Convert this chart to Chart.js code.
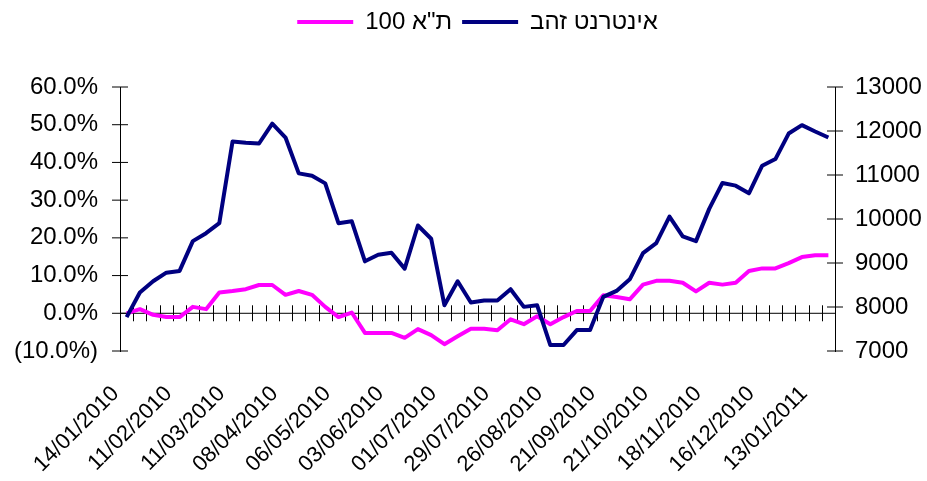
<!DOCTYPE html>
<html>
<head>
<meta charset="utf-8">
<script src="https://cdn.jsdelivr.net/npm/chart.js@4.4.0/dist/chart.umd.min.js"></script>
<style>
  body { margin: 0; background: #fff; }
  #wrap { width: 927px; height: 481px; }
</style>
</head>
<body>
<div id="wrap"><canvas id="chart"></canvas></div>
<script>
// weekly closing dates, Jan 2010 - Jan 2011
const dates = [
  '14/01/2010', '21/01/2010', '28/01/2010', '04/02/2010', '11/02/2010', '18/02/2010',
  '25/02/2010', '04/03/2010', '11/03/2010', '18/03/2010', '25/03/2010', '01/04/2010',
  '08/04/2010', '15/04/2010', '22/04/2010', '29/04/2010', '06/05/2010', '13/05/2010',
  '20/05/2010', '27/05/2010', '03/06/2010', '10/06/2010', '17/06/2010', '24/06/2010',
  '01/07/2010', '08/07/2010', '15/07/2010', '22/07/2010', '29/07/2010', '05/08/2010',
  '12/08/2010', '19/08/2010', '26/08/2010', '02/09/2010', '09/09/2010', '16/09/2010',
  '21/09/2010', '30/09/2010', '07/10/2010', '14/10/2010', '21/10/2010', '28/10/2010',
  '04/11/2010', '11/11/2010', '18/11/2010', '25/11/2010', '02/12/2010', '09/12/2010',
  '16/12/2010', '23/12/2010', '30/12/2010', '06/01/2011', '13/01/2011', '20/01/2011'
];

// Internet Gold share price (right axis)
const zahav = [
  7770, 8330, 8585, 8780, 8820, 9497, 9678, 9905, 11761, 11732, 11716, 12169,
  11852, 11037, 10985, 10810, 9905, 9950, 9038, 9189, 9234, 8872, 9853, 9552,
  8041, 8585, 8102, 8148, 8148, 8404, 8003, 8041, 7136, 7136, 7475, 7475,
  8230, 8365, 8630, 9226, 9452, 10056, 9604, 9497, 10230, 10819, 10758, 10584,
  11211, 11362, 11942, 12133, 11988, 11852
];

// TA-100 change in % (left axis)
const ta100 = [
  0.0, 1.1, -0.4, -1.0, -1.0, 1.7, 1.1, 5.5, 5.9, 6.4, 7.5, 7.5,
  4.9, 5.9, 4.9, 1.7, -1.0, 0.2, -5.2, -5.2, -5.2, -6.5, -4.2, -5.8,
  -8.2, -6.1, -4.1, -4.1, -4.5, -1.6, -2.9, -0.8, -2.9, -1.0, 0.6, 0.6,
  4.8, 4.3, 3.7, 7.6, 8.6, 8.6, 8.1, 5.8, 8.1, 7.6, 8.1, 11.2,
  11.9, 11.9, 13.3, 14.9, 15.4, 15.4
];

const pctRange = [-10, 60];
const priceRange = [7000, 13000];
const seriesNames = ['אינטרנט זהב', 'ת"א 100'];

Chart.defaults.font.family = '"Liberation Sans", Arial, sans-serif';
Chart.defaults.font.size = 24;
Chart.defaults.color = '#000';

// zero line with category ticks, and y ticks crossing both axis lines
const crossAxes = {
  id: 'crossAxes',
  beforeDatasetsDraw(chart) {
    const { ctx, chartArea, scales } = chart;
    const x = scales.x;
    const y0 = scales.yPct.getPixelForValue(0);
    const step = x.getPixelForValue(1) - x.getPixelForValue(0);
    ctx.save();
    ctx.lineWidth = 1;
    ctx.strokeStyle = '#000';
    ctx.beginPath();
    ctx.moveTo(chartArea.left, y0);
    ctx.lineTo(chartArea.right, y0);
    for (let i = 1; i < dates.length; i++) {
      const bx = Math.round(x.getPixelForValue(i) - step / 2) + 0.5;
      ctx.moveTo(bx, y0 - 8);
      ctx.lineTo(bx, y0 + 8);
    }
    [scales.yPct, scales.yPrice].forEach(s => {
      const ax = s.position === 'left' ? s.right : s.left;
      s.ticks.forEach(t => {
        const ty = s.getPixelForValue(t.value);
        ctx.moveTo(ax - 8, ty);
        ctx.lineTo(ax + 8, ty);
      });
    });
    ctx.stroke();
    ctx.restore();
  }
};

// extra room between the legend row and the plot, legend nudged right
const legendGap = {
  id: 'legendGap',
  beforeLayout(chart) {
    const lg = chart.legend;
    if (lg && !lg._gapAdded) {
      const fit = lg.fit;
      const draw = lg.draw;
      lg.fit = function () {
        fit.call(this);
        this.height += 43;
      };
      lg.draw = function () {
        this.ctx.save();
        this.ctx.translate(14, 0);
        draw.call(this);
        this.ctx.restore();
      };
      lg._gapAdded = true;
    }
  }
};

new Chart(document.getElementById('chart'), {
  type: 'line',
  data: {
    labels: dates,
    datasets: [
      {
        label: seriesNames[0],
        data: zahav,
        yAxisID: 'yPrice',
        borderColor: '#000080',
        backgroundColor: '#000080',
        borderWidth: 4,
        borderJoinStyle: 'round',
        pointRadius: 0,
        tension: 0
      },
      {
        label: seriesNames[1],
        data: ta100,
        yAxisID: 'yPct',
        borderColor: '#ff00ff',
        backgroundColor: '#ff00ff',
        borderWidth: 4,
        borderJoinStyle: 'round',
        pointRadius: 0,
        tension: 0
      }
    ]
  },
  options: {
    responsive: true,
    maintainAspectRatio: false,
    animation: false,
    layout: { padding: 0 },
    plugins: {
      tooltip: { enabled: false },
      legend: {
        position: 'top',
        reverse: true,
        textDirection: 'rtl',
        labels: {
          usePointStyle: true,
          pointStyle: 'line',
          pointStyleWidth: 56,
          padding: 10,
          font: { size: 24 }
        }
      }
    },
    scales: {
      x: {
        offset: true,
        grid: { display: false, drawTicks: false },
        border: { display: false },
        ticks: {
          autoSkip: false,
          maxRotation: 45,
          minRotation: 45,
          padding: 30,
          labelOffset: -11,
          font: { size: 22 },
          callback: function (v, i) {
            return i % 4 === 0 ? this.getLabelForValue(v) : '';
          }
        },
        afterFit: s => { s.height = 130; }
      },
      yPct: {
        position: 'left',
        min: pctRange[0],
        max: pctRange[1],
        grid: { display: false, drawTicks: false },
        border: { display: true, color: '#000', width: 1 },
        ticks: {
          stepSize: 10,
          padding: 22,
          callback: v => v < 0 ? '(' + Math.abs(v).toFixed(1) + '%)' : v.toFixed(1) + '%'
        },
        afterFit: s => { s.width = 120; }
      },
      yPrice: {
        position: 'right',
        min: priceRange[0],
        max: priceRange[1],
        grid: { display: false, drawTicks: false },
        border: { display: true, color: '#000', width: 1 },
        ticks: {
          stepSize: 1000,
          padding: 20,
          callback: v => String(v)
        },
        afterFit: s => { s.width = 92; }
      }
    }
  },
  plugins: [crossAxes, legendGap]
});
</script>
</body>
</html>
